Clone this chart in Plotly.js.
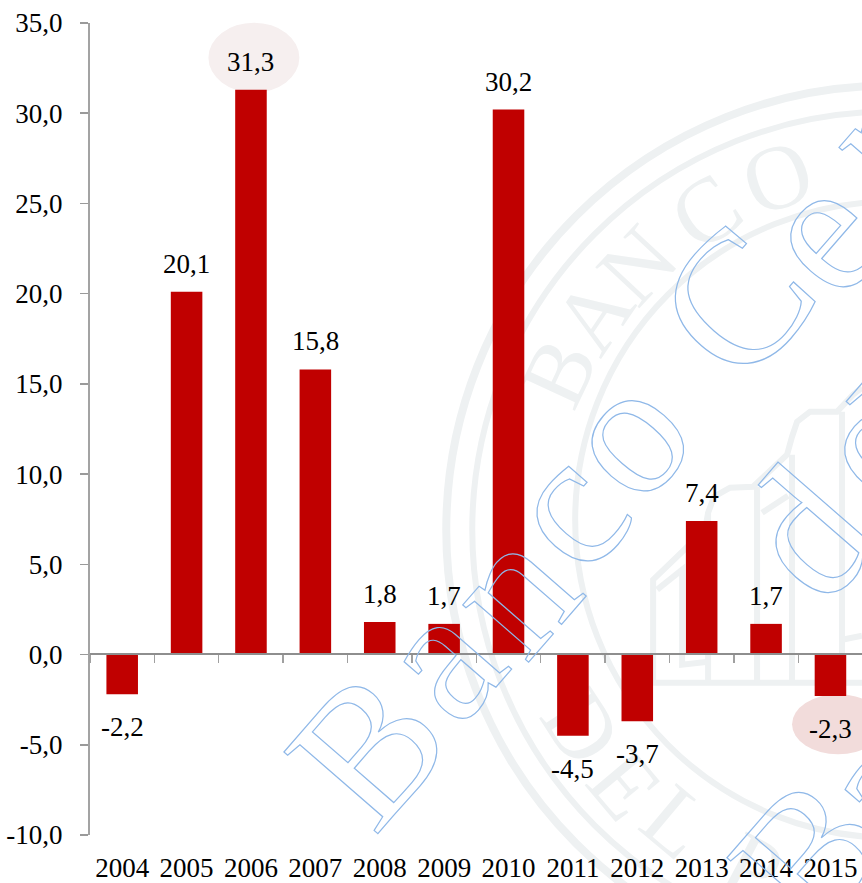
<!DOCTYPE html>
<html>
<head>
<meta charset="utf-8">
<script src="https://cdn.plot.ly/plotly-3.0.1.min.js"></script>
<style>html,body{margin:0;padding:0;background:#fff}#chart{width:862px;height:883px}</style>
</head>
<body>
<div id="chart"></div>
<script>
var categories = ['2004','2005','2006','2007','2008','2009','2010','2011','2012','2013','2014','2015'];
var values = [-2.2,20.1,31.3,15.8,1.8,1.7,30.2,-4.5,-3.7,7.4,1.7,-2.3];
var valueLabels = ['-2,2','20,1','31,3','15,8','1,8','1,7','30,2','-4,5','-3,7','7,4','1,7','-2,3'];
var yTickVals = [35,30,25,20,15,10,5,0,-5,-10];
var yTickText = ['35,0','30,0','25,0','20,0','15,0','10,0','5,0','0,0','-5,0','-10,0'];

var W = 862, H = 883, mL = 89.5, mR = 0, mT = 23.3, mB = 47.7;
function px(x){ return (x - mL) / (W - mL - mR); }
function py(y){ return 1 - (y - mT) / (H - mT - mB); }
function ellipse(cx, cy, rx, ry, opts){
  return Object.assign({type:'circle', xref:'paper', yref:'paper', layer:'below',
    x0:px(cx-rx), x1:px(cx+rx), y0:py(cy+ry), y1:py(cy-ry)}, opts);
}
function pathFrom(points){
  return {type:'path', xref:'paper', yref:'paper', layer:'below',
    line:{color:'#eef1f2', width:6},
    path: points.map(function(p,i){ return (i?'L ':'M ') + px(p[0]) + ' ' + py(p[1]); }).join(' ')};
}
var sealCol = '#eef1f2';
var shapes = [
  ellipse(890,530,444,444,{line:{color:sealCol,width:8}}),
  ellipse(890,530,418,418,{line:{color:sealCol,width:6}}),
  ellipse(891,520,316,318,{line:{color:sealCol,width:6}}),
  pathFrom([[653,683],[653,580],[705,530],[708,513],[714,497],[730,488],[753,487],[787,455],[792,437],[797,422],[810,412],[837,412],[853,395],[862,388]]),
  pathFrom([[653,683],[862,683]]),
  pathFrom([[708,513],[708,683]]),
  pathFrom([[757,487],[757,683]]),
  pathFrom([[792,455],[792,683]]),
  pathFrom([[842,412],[842,683]]),
  pathFrom([[657,590],[682,570],[682,665],[708,662]]),
  pathFrom([[762,513],[788,496]]),
  pathFrom([[842,640],[862,636]]),
  ellipse(253.5,58,45.5,35,{fillcolor:'#f6efef',line:{width:0}}),
  ellipse(838,724.5,46,30,{fillcolor:'#f2dcdb',line:{width:0}})
];

var annotations = categories.map(function(c,i){
  return {x:i, y:values[i], xref:'x', yref:'y', text:valueLabels[i], showarrow:false,
    yshift: values[i] >= 0 ? 28 : -33, xanchor:'center', yanchor:'middle',
    font:{family:'Liberation Serif, serif', size:27, color:'#000'}};
});

var sealLetters = [['B',558,373,-65],['A',593,315,-56],['N',637,265,-47],['C',705,212,-35],['O',777,177,-20],
                   ['D',582,727,57],['E',625,785,50],['L',677,822,40],['P',752,868,28]];
var sealStart = annotations.length;
sealLetters.forEach(function(l){
  annotations.push({xref:'paper',yref:'paper',x:px(l[1]),y:py(l[2]),text:l[0],textangle:l[3],showarrow:false,
    xanchor:'center',yanchor:'middle',font:{family:'Liberation Serif, serif',size:92,color:'#eef1f2'}});
});

var wmLetters = [['B',367,748],['a',437,657],['n',508,588],['c',563,507],['o',622,433],
                 ['C',735,302],['e',818,232],['n',885,130],
                 ['d',806,533],['e',872,445],['R',930,397],
                 ['B',810,854],['a',878,785]];
var wmStart = annotations.length;
wmLetters.forEach(function(w){
  annotations.push({xref:'paper',yref:'paper',x:px(w[1]),y:py(w[2]),text:w[0],textangle:-49,showarrow:false,
    xanchor:'center',yanchor:'middle',
    font:{family:'Liberation Serif, serif',size:190,color:'rgba(0,0,0,0)'}});
});

var traces = [
  {type:'bar', x:categories, y:values, width:0.49, marker:{color:'#C00000', line:{width:0}}, hoverinfo:'skip'},
  {type:'scatter', mode:'markers', x:categories, y:values.map(function(){return null;}), xaxis:'x2', yaxis:'y', marker:{opacity:0}, hoverinfo:'skip', showlegend:false}
];

var axisFont = {family:'Liberation Serif, serif', size:27, color:'#000'};
var layout = {
  width:W, height:H, showlegend:false, paper_bgcolor:'#fff', plot_bgcolor:'rgba(0,0,0,0)',
  margin:{l:mL, r:mR, t:mT, b:mB, pad:0}, bargap:0.51,
  xaxis:{type:'category', categoryorder:'array', categoryarray:categories,
    range:[-0.5,11.49], showline:false, showgrid:false, zeroline:false, ticks:'', tickfont:axisFont, tickangle:0, automargin:false, ticklabelstandoff:14},
  xaxis2:{type:'category', categoryorder:'array', categoryarray:categories, overlaying:'x', anchor:'free', side:'bottom',
    position:(835.3-654.3)/812, range:[-0.5,11.49], showline:true, linecolor:'#8e8e8e', linewidth:2, showgrid:false, zeroline:false,
    ticks:'outside', ticklen:8, tickwidth:1.4, tickcolor:'#a0a0a0', tickson:'boundaries', showticklabels:false},
  yaxis:{range:[-10,35], tickmode:'array', tickvals:yTickVals, ticktext:yTickText, showgrid:false,
    zeroline:false, showline:true, linecolor:'#a3a3a3', linewidth:2,
    ticks:'outside', ticklen:8, tickwidth:1.6, tickcolor:'#9a9a9a', tickfont:axisFont, ticklabelstandoff:12, automargin:false},
  shapes:shapes, annotations:annotations
};

Plotly.newPlot('chart', traces, layout, {displayModeBar:false, staticPlot:true}).then(function(){
  var cart = document.querySelector('.main-svg .cartesianlayer');
  document.querySelectorAll('g.annotation').forEach(function(g){
    var idx = +g.getAttribute('data-index');
    if (idx >= sealStart && idx < wmStart) {
      cart.parentNode.insertBefore(g, cart);
    } else if (idx >= wmStart) {
      var t = g.querySelector('.annotation-text');
      t.style.setProperty('fill','none','important');
      t.style.setProperty('stroke','#8fb8e8','important');
      t.style.setProperty('stroke-width','1.2px','important');
    }
  });
});
</script>
</body>
</html>
